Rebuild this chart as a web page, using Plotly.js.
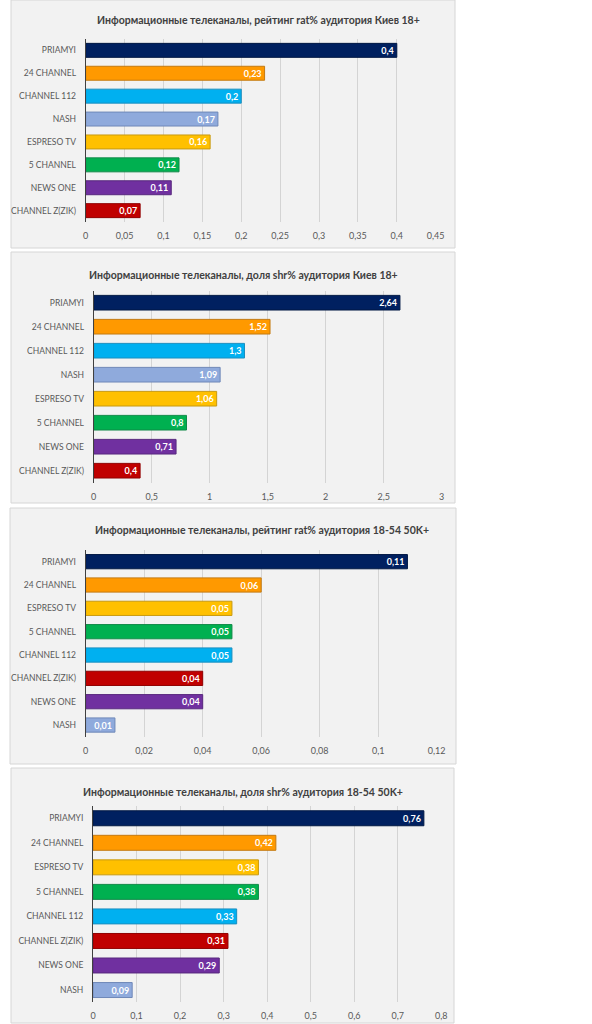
<!DOCTYPE html>
<html>
<head>
<meta charset="utf-8">
<script src="https://cdn.plot.ly/plotly-3.0.1.min.js"></script>
<style>
html,body{margin:0;padding:0;background:#fff;}
#chart{width:592px;height:1024px;}
</style>
</head>
<body>
<div id="chart"></div>
<script>
// ---- data ----
var titles = [
  'Информационные телеканалы, рейтинг rat% аудитория Киев 18+',
  'Информационные телеканалы, доля shr% аудитория Киев 18+',
  'Информационные телеканалы, рейтинг rat% аудитория 18-54 50K+',
  'Информационные телеканалы, доля shr% аудитория 18-54 50K+'
];
var catsKiev = ['PRIAMYI', '24 CHANNEL', 'CHANNEL 112', 'NASH', 'ESPRESO TV', '5 CHANNEL', 'NEWS ONE', 'CHANNEL Z(ZIK)'];
var cats1854 = ['PRIAMYI', '24 CHANNEL', 'ESPRESO TV', '5 CHANNEL', 'CHANNEL 112', 'CHANNEL Z(ZIK)', 'NEWS ONE', 'NASH'];
var ratKiev = [0.4, 0.23, 0.2, 0.17, 0.16, 0.12, 0.11, 0.07];
var shrKiev = [2.64, 1.52, 1.3, 1.09, 1.06, 0.8, 0.71, 0.4];
var rat1854 = [0.11, 0.06, 0.05, 0.05, 0.05, 0.04, 0.04, 0.01];
var shr1854 = [0.76, 0.42, 0.38, 0.38, 0.33, 0.31, 0.29, 0.09];
var xRanges = [[0, 0.45], [0, 3], [0, 0.12], [0, 0.8]];
var xDticks = [0.05, 0.5, 0.02, 0.1];

// ---- styles ----
var fillColors = {
  'PRIAMYI': '#002060', '24 CHANNEL': '#ff9900', 'CHANNEL 112': '#00b0f0', 'NASH': '#8faadc',
  'ESPRESO TV': '#ffc000', '5 CHANNEL': '#00b050', 'NEWS ONE': '#7030a0', 'CHANNEL Z(ZIK)': '#c00000'
};
var lineColors = {
  'PRIAMYI': '#001844', '24 CHANNEL': '#c47a10', 'CHANNEL 112': '#1a8fc0', 'NASH': '#6f88b8',
  'ESPRESO TV': '#c89a10', '5 CHANNEL': '#108a48', 'NEWS ONE': '#58287e', 'CHANNEL Z(ZIK)': '#900000'
};
var W = 592, H = 1024;
function px(x){ return x / W; }
function py(y){ return 1 - y / H; }
var panels = [
  {box:[11, 0, 455, 248], x:[85.7, 435.7], y:[38.9, 222.1], tx:258, ty:20},
  {box:[11, 252, 455, 503], x:[93.7, 441.7], y:[290.7, 482.7], tx:243, ty:275},
  {box:[10, 508, 456, 764], x:[85.7, 436.7], y:[550, 736.7], tx:262, ty:530},
  {box:[11, 768, 454, 1023], x:[93, 441.3], y:[806, 1002.3], tx:243, ty:791.5}
];
var series = [
  {cats: catsKiev, vals: ratKiev},
  {cats: catsKiev, vals: shrKiev},
  {cats: cats1854, vals: rat1854},
  {cats: cats1854, vals: shr1854}
];
var FONT = 'Lato, "Open Sans", sans-serif';

var data = [];
var layout = {
  width: W, height: H,
  margin: {l:0, r:0, t:0, b:0},
  paper_bgcolor: '#ffffff',
  plot_bgcolor: 'rgba(0,0,0,0)',
  separators: ', ',
  showlegend: false,
  bargap: 0.39,
  font: {family: FONT, size: 9, color: '#595959'},
  shapes: [],
  annotations: []
};

series.forEach(function(s, i){
  var n = i === 0 ? '' : String(i + 1);
  data.push({
    type: 'bar',
    orientation: 'h',
    x: s.vals,
    y: s.cats,
    xaxis: 'x' + n,
    yaxis: 'y' + n,
    text: s.vals.map(function(v){ return String(v).replace('.', ','); }),
    textposition: 'inside',
    insidetextanchor: 'end',
    textangle: 0,
    textfont: {family: FONT, size: 9, color: '#ffffff', weight: 'bold'},
    insidetextfont: {family: FONT, size: 9, color: '#ffffff', weight: 'bold'},
    constraintext: 'none',
    marker: {
      color: s.cats.map(function(c){ return fillColors[c]; }),
      line: {color: s.cats.map(function(c){ return lineColors[c]; }), width: 1}
    },
    hoverinfo: 'none'
  });
  var p = panels[i];
  layout['xaxis' + n] = {
    domain: [px(p.x[0]), px(p.x[1])],
    anchor: 'y' + n,
    range: xRanges[i],
    dtick: xDticks[i],
    tick0: 0,
    showgrid: true,
    gridcolor: '#d4d4d4',
    gridwidth: 1,
    zeroline: false,
    showline: false,
    ticks: 'outside',
    ticklen: 5,
    tickcolor: 'rgba(0,0,0,0)',
    tickfont: {family: FONT, size: 9, color: '#595959'},
    fixedrange: true
  };
  layout['yaxis' + n] = {
    domain: [py(p.y[1]), py(p.y[0])],
    anchor: 'x' + n,
    type: 'category',
    autorange: 'reversed',
    showgrid: false,
    zeroline: false,
    showline: true,
    linecolor: '#404040',
    linewidth: 1,
    ticks: 'outside',
    ticklen: 7,
    tickcolor: 'rgba(0,0,0,0)',
    tickfont: {family: FONT, size: 8.5, color: '#595959'},
    fixedrange: true
  };
  layout.shapes.push({
    type: 'rect', xref: 'paper', yref: 'paper', layer: 'below',
    x0: px(p.box[0]), x1: px(p.box[2]), y0: py(p.box[3]), y1: py(p.box[1]),
    fillcolor: '#f2f2f2', line: {color: '#d6d6d6', width: 1}
  });
  layout.annotations.push({
    xref: 'paper', yref: 'paper', x: px(p.tx), y: py(p.ty),
    xanchor: 'center', yanchor: 'middle', showarrow: false,
    text: '<b>' + titles[i] + '</b>',
    font: {family: FONT, size: 10.5, color: '#404040'}
  });
});

Plotly.newPlot('chart', data, layout, {staticPlot: true, displayModeBar: false});
</script>
</body>
</html>
